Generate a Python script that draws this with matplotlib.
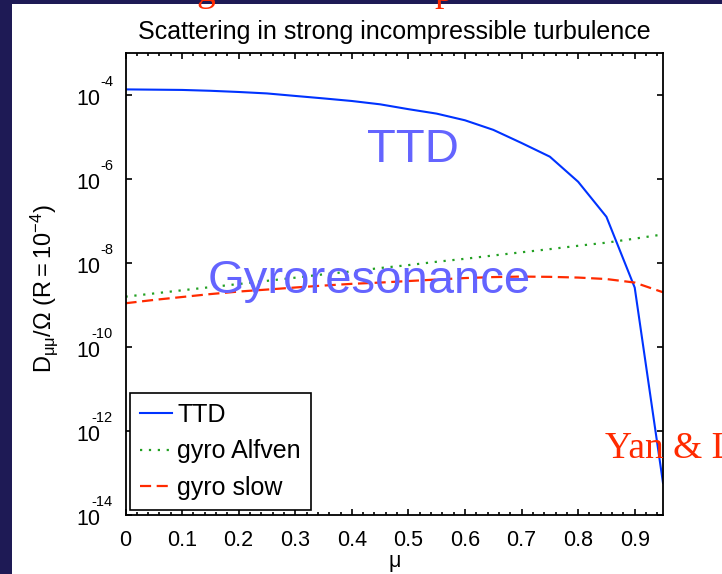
import matplotlib
matplotlib.use('Agg')
import matplotlib.pyplot as plt
from matplotlib.patches import Rectangle
from matplotlib.ticker import MultipleLocator, NullLocator, FixedLocator

plt.rcParams['font.family'] = ['Liberation Sans', 'DejaVu Sans']
plt.rcParams['mathtext.fontset'] = 'custom'
plt.rcParams['mathtext.rm'] = 'Liberation Sans'
plt.rcParams['mathtext.it'] = 'Liberation Sans'

# pitch-angle cosine
mu = [0.0, 0.05, 0.1, 0.15, 0.2, 0.25, 0.3, 0.35, 0.4, 0.45,
      0.5, 0.55, 0.6, 0.65, 0.7, 0.75, 0.8, 0.85, 0.9, 0.95]

ttd = [1.36e-4, 1.34e-4, 1.32e-4, 1.26e-4, 1.18e-4, 1.09e-4, 9.5e-5, 8.3e-5,
       7.2e-5, 6.0e-5, 4.6e-5, 3.6e-5, 2.5e-5, 1.48e-5, 7.2e-6, 3.4e-6,
       8.6e-7, 1.26e-7, 2.6e-9, 5.8e-14]

gyro_alfven = [1.58e-9, 1.88e-9, 2.24e-9, 2.66e-9, 3.16e-9, 3.76e-9, 4.47e-9,
               5.37e-9, 6.31e-9, 7.59e-9, 8.91e-9, 1.07e-8, 1.26e-8, 1.51e-8,
               1.80e-8, 2.14e-8, 2.57e-8, 3.05e-8, 3.80e-8, 4.79e-8]

gyro_slow = [1.10e-9, 1.32e-9, 1.55e-9, 1.82e-9, 2.09e-9, 2.33e-9, 2.61e-9,
             2.90e-9, 3.19e-9, 3.42e-9, 3.72e-9, 4.04e-9, 4.38e-9, 4.62e-9,
             4.75e-9, 4.68e-9, 4.50e-9, 4.15e-9, 3.42e-9, 2.01e-9]

xtick_vals = [0, 0.1, 0.2, 0.3, 0.4, 0.5, 0.6, 0.7, 0.8, 0.9]
xtick_labels = ['0', '0.1', '0.2', '0.3', '0.4', '0.5', '0.6', '0.7', '0.8', '0.9']
ytick_exps = [-14, -12, -10, -8, -6, -4]

W, H = 722, 574
fig = plt.figure(figsize=(W / 100, H / 100), dpi=100)
fig.patch.set_facecolor('#1e1a55')
fig.add_artist(Rectangle((12 / W, 0), 1, 1 - 4 / H, transform=fig.transFigure,
                         facecolor='white', edgecolor='none', zorder=-1))

ax = fig.add_axes([125.5 / W, 1 - 515 / H, 537.5 / W, 462 / H])

ax.plot(mu, ttd, color='#0033ff', lw=1.5, label='TTD')
ax.plot(mu, gyro_alfven, color='#22a022', lw=1.6, linestyle=(0, (1, 3)),
        label='gyro Alfven')
ax.plot(mu, gyro_slow, color='#ff2a00', lw=1.6, linestyle=(0, (5, 2.5)),
        label='gyro slow')

ax.set_yscale('log')
ax.set_xlim(0, 0.95)
ax.set_ylim(1e-14, 1e-3)

ax.set_xticks(xtick_vals)
ax.set_xticklabels(xtick_labels)
ax.xaxis.set_minor_locator(MultipleLocator(0.02))
ax.yaxis.set_major_locator(FixedLocator([10.0 ** e for e in ytick_exps]))
ax.yaxis.set_minor_locator(NullLocator())
ax.set_yticklabels([])

ax.tick_params(which='both', direction='in', top=True, right=True, width=1.2)
ax.tick_params(which='major', length=4.5)
ax.tick_params(which='minor', length=2.2)
ax.tick_params(axis='x', labelsize=15.5, pad=11)
for s in ax.spines.values():
    s.set_linewidth(1.3)

# y tick labels drawn as "10" plus a raised exponent
ytr = ax.get_yaxis_transform()
for e in ytick_exps:
    ax.annotate('10', xy=(0, 10.0 ** e), xycoords=ytr, xytext=(-18, -3),
                textcoords='offset points', ha='right', va='center', fontsize=15.5)
    ax.annotate(str(e), xy=(0, 10.0 ** e), xycoords=ytr, xytext=(-9, 9.5),
                textcoords='offset points', ha='right', va='center', fontsize=10.5)

ax.set_title('Scattering in strong incompressible turbulence', fontsize=18, pad=10)
ax.set_xlabel('μ', fontsize=15.5)
ax.xaxis.set_label_coords(0.5, -0.079)
ax.set_ylabel(r'$\mathregular{D_{\mu\mu}/\Omega\ (R{=}10^{-4})}$', fontsize=17, va='center')
ax.yaxis.set_label_coords(-0.152, 0.49)

leg = ax.legend(loc='lower left', bbox_to_anchor=(0.008, 0.011), fontsize=18,
                handlelength=1.3, handletextpad=0.2, labelspacing=0.5,
                borderpad=0.4, borderaxespad=0, fancybox=False, framealpha=1,
                edgecolor='black')
leg.get_frame().set_linewidth(1.2)

# slide annotations
fig.text(413 / W, 1 - 162 / H, 'TTD', color='#6464ff', fontsize=34,
         ha='center', va='baseline')
fig.text(208 / W, 1 - 293 / H, 'Gyroresonance', color='#6464ff', fontsize=34,
         ha='left', va='baseline')
fig.text(605 / W, 1 - 458 / H, 'Yan & Lazarian', color='#ff2a00', fontsize=27,
         family='Liberation Serif', ha='left', va='baseline')
fig.text(196 / W, 1 - 1 / H, 'g', color='#ff2a00', fontsize=27,
         family='Liberation Serif', ha='left', va='baseline')
fig.text(434 / W, 1 - 1 / H, 'p', color='#ff2a00', fontsize=27,
         family='Liberation Serif', ha='left', va='baseline')

fig.savefig('out.png', dpi=100, facecolor=fig.get_facecolor())
